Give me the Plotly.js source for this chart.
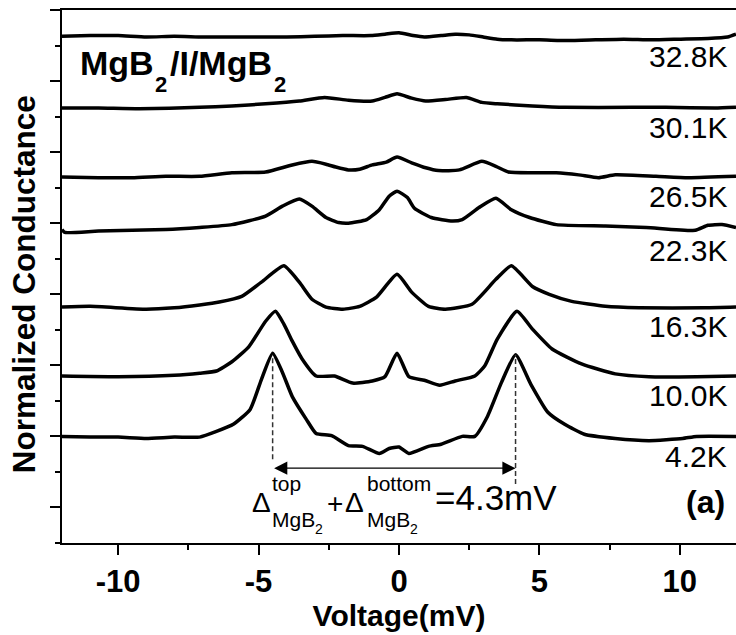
<!DOCTYPE html>
<html>
<head>
<meta charset="utf-8">
<script src="https://cdn.plot.ly/plotly-3.0.1.min.js"></script>
<style>html,body{margin:0;padding:0;background:#fff;}#chart{width:736px;height:635px;}</style>
</head>
<body>
<div id="chart"></div>
<script>
// ---- data (voltage in mV, normalized conductance) ----
var temps   = ['4.2K', '10.0K', '16.3K', '22.3K', '26.5K', '30.1K', '32.8K'];
var offsets = [0, 0.85, 1.82, 2.90, 3.65, 4.62, 5.63];

var v42 = [-12, -11, -10, -9, -8, -7.1, -6.5, -5.9, -5.3, -4.9, -4.5, -4.15, -3.8, -3.3, -2.95, -2.4, -1.8, -1.3, -0.7, -0.35, 0, 0.35, 1.05, 1.5, 2.25, 2.7, 3.15, 3.65, 4.15, 4.7, 5.3, 5.9, 6.6, 7.7, 8.9, 10.1, 10.6, 12];
var g42 = [1.00, 0.99, 0.99, 0.97, 0.99, 0.99, 1.07, 1.17, 1.38, 1.80, 2.17, 1.90, 1.56, 1.24, 1.04, 1.01, 0.87, 0.86, 0.76, 0.83, 0.85, 0.76, 0.86, 0.89, 1.00, 1.00, 1.28, 1.76, 2.15, 1.73, 1.34, 1.17, 1.03, 0.97, 0.94, 0.97, 1.00, 1.00];

var v10 = [-12, -10, -8, -7.1, -6.5, -5.95, -5.35, -4.75, -4.4, -4.1, -3.8, -3.45, -2.95, -2.3, -1.65, -0.95, -0.5, -0.07, 0.35, 0.9, 1.45, 2.0, 2.7, 3.05, 3.5, 4.2, 4.75, 5.45, 6.5, 7.7, 8.9, 10.6, 12];
var g10 = [1.00, 0.99, 1.01, 1.04, 1.07, 1.20, 1.41, 1.77, 1.91, 1.73, 1.49, 1.24, 1.00, 1.00, 0.90, 0.93, 0.99, 1.32, 0.99, 0.94, 0.87, 0.93, 1.00, 1.14, 1.52, 1.91, 1.66, 1.38, 1.17, 1.03, 0.99, 0.99, 1.00];

var v16 = [-12, -11, -9, -8, -7.1, -6.4, -5.6, -4.9, -4.1, -3.55, -3.1, -2.6, -2.0, -1.4, -0.8, -0.07, 0.45, 1.05, 1.65, 2.6, 3.45, 4.0, 4.75, 5.35, 6.15, 7.35, 8.55, 10.9, 12];
var g16 = [1.00, 1.01, 0.97, 0.99, 1.03, 1.07, 1.15, 1.35, 1.58, 1.35, 1.11, 1.00, 0.97, 1.01, 1.14, 1.46, 1.21, 1.01, 0.97, 1.04, 1.39, 1.58, 1.29, 1.18, 1.08, 1.01, 0.99, 0.99, 1.00];

var v22 = [-12, -11.9, -10.7, -8.3, -7.1, -5.95, -4.75, -4.15, -3.55, -3.1, -2.6, -2.15, -1.8, -1.15, -0.7, -0.35, -0.07, 0.3, 0.55, 1.15, 1.9, 2.25, 2.85, 3.45, 4.0, 4.65, 5.6, 7.35, 8.8, 10.55, 11.0, 11.5, 12];
var g22 = [1.01, 0.97, 0.99, 1.01, 1.04, 1.08, 1.20, 1.34, 1.44, 1.34, 1.18, 1.11, 1.10, 1.15, 1.29, 1.48, 1.55, 1.46, 1.31, 1.18, 1.13, 1.15, 1.32, 1.45, 1.29, 1.18, 1.08, 1.06, 1.04, 1.00, 1.07, 1.08, 1.04];

var v26 = [-12, -10.7, -9.5, -8.3, -7.1, -5.95, -4.75, -3.8, -3.1, -2.6, -2.25, -1.8, -1.4, -0.95, -0.45, -0.07, 0.45, 0.95, 1.4, 2.15, 2.95, 3.45, 3.9, 4.75, 5.6, 6.4, 7.1, 7.7, 9.15, 10.3, 12];
var g26 = [1.00, 0.99, 0.99, 1.01, 1.01, 1.06, 1.07, 1.17, 1.22, 1.18, 1.14, 1.10, 1.11, 1.17, 1.21, 1.28, 1.20, 1.13, 1.09, 1.10, 1.22, 1.15, 1.07, 1.06, 1.06, 1.03, 0.99, 1.03, 1.01, 0.99, 1.01];

var v30 = [-12, -10.7, -9.25, -7.1, -5.95, -4.75, -3.55, -2.65, -1.8, -0.95, -0.5, -0.07, 0.45, 0.95, 1.65, 2.4, 2.95, 3.5, 4.75, 5.9, 8.3, 9.5, 11.25, 12];
var g30 = [1.00, 1.00, 0.99, 1.01, 1.03, 1.06, 1.10, 1.15, 1.11, 1.10, 1.15, 1.20, 1.14, 1.10, 1.12, 1.15, 1.08, 1.06, 1.03, 1.01, 1.01, 1.01, 1.00, 1.01];

var v32 = [-12, -11, -10, -9, -8, -7, -6, -5, -4, -3, -2, -1, -0.5, 0, 0.5, 0.9, 1.5, 2.0, 2.5, 3.0, 3.5, 4, 5, 6, 7, 8, 9, 10, 11, 11.7, 12];
var g32 = [1.00, 1.01, 1.01, 0.99, 1.00, 0.99, 0.99, 0.99, 0.99, 1.00, 1.01, 1.01, 1.03, 1.05, 1.01, 0.99, 1.01, 1.03, 1.02, 0.99, 0.96, 0.95, 0.95, 0.94, 0.95, 0.96, 0.95, 0.96, 0.97, 0.99, 1.03];

var voltages = [v42, v10, v16, v22, v26, v30, v32];
var conductances = [g42, g10, g16, g22, g26, g30, g32];

// gap peaks of the 4.2K curve (mV)
var gapPeaks = [-4.5, 4.15];

var xTickVals = [-10, -5, 0, 5, 10];
var xTickText = ['-10', '-5', '0', '5', '10'];

// ---- build ----
var FONT = 'Liberation Sans, Arial, Helvetica, sans-serif';
var traces = temps.map(function (t, i) {
  return {
    type: 'scatter', mode: 'lines', name: t,
    x: voltages[i],
    y: conductances[i].map(function (g) { return g + offsets[i]; }),
    line: { color: '#000', width: 3.5, shape: 'spline', smoothing: 0.5 },
    hoverinfo: 'skip'
  };
});

var peakTop = Math.max.apply(null, g42) + offsets[0];
var arrowY = 0.553;

var shapes = [
  { type: 'line', xref: 'x', yref: 'y', x0: gapPeaks[0], x1: gapPeaks[0], y0: 0.68, y1: peakTop - 0.02,
    line: { color: '#333', width: 1.5, dash: '5px,3px' } },
  { type: 'line', xref: 'x', yref: 'y', x0: gapPeaks[1], x1: gapPeaks[1], y0: 0.33, y1: peakTop - 0.02,
    line: { color: '#333', width: 1.5, dash: '5px,3px' } }
];

function txt(xref, x, y, text, size, xanchor, bold) {
  return { xref: xref, yref: 'y', x: x, y: y, text: text, xanchor: xanchor, yanchor: 'middle',
    showarrow: false, font: { family: FONT, size: size, color: '#000', weight: bold ? 'bold' : 'normal' } };
}

var annotations = temps.map(function (t, i) {
  return txt('paper', 0.99, offsets[i] + 0.72, t, 30, 'right', false);
});

annotations.push(
  // sample label MgB2/I/MgB2
  txt('paper', 0.0237, 6.25, 'MgB', 34, 'left', true),
  txt('paper', 0.135, 5.95, '2', 22, 'left', true),
  txt('paper', 0.157, 6.25, '/I/MgB', 34, 'left', true),
  txt('paper', 0.3116, 5.95, '2', 22, 'left', true),
  // panel label
  txt('paper', 0.987, 0.076, '(a)', 32, 'right', true),
  // double arrow between gap peaks
  { xref: 'x', yref: 'y', axref: 'x', ayref: 'y', x: gapPeaks[1], y: arrowY, ax: gapPeaks[0], ay: arrowY,
    text: '', showarrow: true, arrowside: 'end+start', arrowhead: 2, arrowsize: 2.2, arrowwidth: 1.2,
    arrowcolor: '#000', standoff: 0, startstandoff: 0 },
  // formula pieces
  txt('x', -4.88, 0.07, 'Δ', 28, 'center', false),
  txt('x', -4.58, 0.34, 'top', 21, 'left', false),
  txt('x', -4.58, -0.17, 'MgB', 21, 'left', false),
  txt('x', -3.07, -0.30, '2', 14, 'left', false),
  txt('x', -2.28, 0.05, '+', 28, 'center', false),
  txt('x', -1.57, 0.07, 'Δ', 28, 'center', false),
  txt('x', -1.22, 0.34, 'bottom', 21, 'left', false),
  txt('x', -1.2, -0.17, 'MgB', 21, 'left', false),
  txt('x', 0.31, -0.30, '2', 14, 'left', false),
  txt('x', 1.2, 0.14, '=4.3mV', 35, 'left', false),
  // y axis title
  { xref: 'paper', yref: 'paper', x: -0.056, y: 0.486, text: 'Normalized Conductance', textangle: -90,
    xanchor: 'center', yanchor: 'middle', showarrow: false,
    font: { family: FONT, size: 31.5, color: '#000', weight: 'bold' } }
);

var layout = {
  width: 736, height: 635,
  margin: { l: 62, r: 0, t: 10, b: 92, pad: 0 },
  paper_bgcolor: '#fff', plot_bgcolor: '#fff',
  showlegend: false,
  font: { family: FONT, color: '#000' },
  xaxis: {
    range: [-12, 12], tickmode: 'array', tickvals: xTickVals, ticktext: xTickText,
    ticks: 'outside', ticklen: 10, tickwidth: 2, tickcolor: '#000',
    minor: { tickmode: 'linear', tick0: 0, dtick: 2.5, ticks: 'outside', ticklen: 5, tickwidth: 2, tickcolor: '#000', showgrid: false },
    showline: true, linewidth: 2, linecolor: '#000', mirror: true,
    showgrid: false, zeroline: false, automargin: false,
    tickfont: { family: FONT, size: 31, weight: 'bold', color: '#000' },
    title: { text: 'Voltage(mV)', font: { family: FONT, size: 30, weight: 'bold', color: '#000' }, standoff: 2 }
  },
  yaxis: {
    range: [-0.5, 7], tickmode: 'linear', tick0: 0, dtick: 1,
    ticks: 'outside', ticklen: 10, tickwidth: 2, tickcolor: '#000',
    minor: { tickmode: 'linear', tick0: 0, dtick: 0.5, ticks: 'outside', ticklen: 5, tickwidth: 2, tickcolor: '#000', showgrid: false },
    showline: true, linewidth: 2, linecolor: '#000', mirror: false,
    showticklabels: false, showgrid: false, zeroline: false, automargin: false
  },
  shapes: shapes,
  annotations: annotations
};

Plotly.newPlot('chart', traces, layout, { displayModeBar: false, staticPlot: true });
</script>
</body>
</html>
